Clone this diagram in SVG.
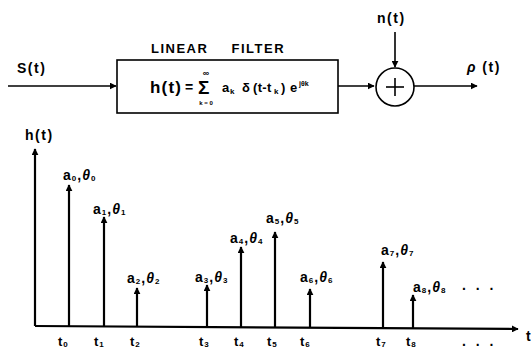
<svg xmlns="http://www.w3.org/2000/svg" width="531" height="348" viewBox="0 0 531 348">
<style>
text{font-family:"Liberation Sans",Arial,sans-serif;font-weight:bold;fill:#000}
.lbl{font-size:14px;letter-spacing:1.5px}
.ann{font-size:14px;letter-spacing:1px}
.tk{font-size:13px;letter-spacing:1px}
.sub{font-size:8px}
.th{font-style:italic}
.f{font-size:13px}
.dots{font-size:14px;letter-spacing:3px}
.ln{stroke:#000;stroke-width:1.6;fill:none}
.imp{stroke:#000;stroke-width:2.2;fill:none}
</style>
<defs>
<marker id="ah" viewBox="0 0 10 10" refX="9" refY="5" markerWidth="7" markerHeight="7" markerUnits="userSpaceOnUse" orient="auto"><path d="M0,0 L10,5 L0,10 z" fill="#000"/></marker>
</defs>
<rect x="0" y="0" width="531" height="348" fill="#fff"/>
<g id="connectors">
<line class="ln" x1="8" y1="86" x2="116" y2="86" marker-end="url(#ah)"/>
<line class="ln" x1="338" y1="86" x2="374" y2="86" marker-end="url(#ah)"/>
<line class="ln" x1="395" y1="32" x2="395" y2="67" marker-end="url(#ah)"/>
<line class="ln" x1="414" y1="86" x2="477" y2="86" marker-end="url(#ah)"/>
</g>
<g id="input"><text class="lbl" x="17" y="73">S(t)</text></g>
<g id="filter">
<text x="151" y="53" font-size="13" letter-spacing="1.5" word-spacing="18">LINEAR FILTER</text>
<rect x="117" y="60" width="221" height="53" fill="none" stroke="#000" stroke-width="1.6"/>
<text x="150" y="93" font-size="17" letter-spacing="1.2">h(t)</text>
<text x="185" y="92" font-size="14">=</text>
<text x="198" y="94" font-size="19">Σ</text>
<text x="206" y="76" font-size="9" text-anchor="middle">∞</text>
<text x="206" y="105" font-size="6" text-anchor="middle">k = 0</text>
<text class="f" x="222" y="92">a</text>
<text class="sub" x="230" y="94">k</text>
<text class="f" x="242" y="92">δ</text>
<text class="f" x="253" y="92" letter-spacing="0.3">(t-t</text>
<text class="sub" x="274" y="94">k</text>
<text class="f" x="281" y="92">)</text>
<text class="f" x="290" y="92">e</text>
<text x="299" y="86" font-size="7">jθk</text>
</g>
<g id="sum">
<circle cx="395" cy="87" r="19" fill="none" stroke="#000" stroke-width="1.6"/>
<line class="ln" x1="395" y1="78" x2="395" y2="96"/>
<line class="ln" x1="386" y1="87" x2="404" y2="87"/>
</g>
<g id="noise"><text class="lbl" x="377" y="23">n(t)</text></g>
<g id="output"><text class="lbl" x="467" y="72"><tspan class="th">ρ</tspan> (t)</text></g>
<g id="axes">
<line class="imp" x1="35" y1="326" x2="35" y2="149" marker-end="url(#ah)"/>
<line class="imp" x1="35" y1="326" x2="518" y2="329" marker-end="url(#ah)"/>
<text class="lbl" x="25" y="140">h(t)</text>
<text class="lbl" x="526" y="341">t</text>
</g>
<g id="impulses">
<line class="imp" x1="69" y1="326.2" x2="69" y2="185" marker-end="url(#ah)"/>
<line class="imp" x1="104" y1="326.4" x2="104" y2="217" marker-end="url(#ah)"/>
<line class="imp" x1="137" y1="326.6" x2="137" y2="288" marker-end="url(#ah)"/>
<line class="imp" x1="207" y1="327.1" x2="207" y2="285" marker-end="url(#ah)"/>
<line class="imp" x1="241" y1="327.3" x2="241" y2="247" marker-end="url(#ah)"/>
<line class="imp" x1="275" y1="327.5" x2="275" y2="232" marker-end="url(#ah)"/>
<line class="imp" x1="310" y1="327.7" x2="310" y2="289" marker-end="url(#ah)"/>
<line class="imp" x1="383" y1="328.2" x2="383" y2="262" marker-end="url(#ah)"/>
<line class="imp" x1="413" y1="328.4" x2="413" y2="295" marker-end="url(#ah)"/>
</g>
<g id="labels">
<text class="ann" x="63" y="180">a<tspan class="sub" dy="1">0</tspan><tspan dy="-1">,</tspan><tspan class="th">θ</tspan><tspan class="sub" dy="1">0</tspan></text>
<text class="ann" x="93" y="214">a<tspan class="sub" dy="1">1</tspan><tspan dy="-1">,</tspan><tspan class="th">θ</tspan><tspan class="sub" dy="1">1</tspan></text>
<text class="ann" x="127" y="283">a<tspan class="sub" dy="1">2</tspan><tspan dy="-1">,</tspan><tspan class="th">θ</tspan><tspan class="sub" dy="1">2</tspan></text>
<text class="ann" x="195" y="282">a<tspan class="sub" dy="1">3</tspan><tspan dy="-1">,</tspan><tspan class="th">θ</tspan><tspan class="sub" dy="1">3</tspan></text>
<text class="ann" x="230" y="243">a<tspan class="sub" dy="1">4</tspan><tspan dy="-1">,</tspan><tspan class="th">θ</tspan><tspan class="sub" dy="1">4</tspan></text>
<text class="ann" x="266" y="223">a<tspan class="sub" dy="1">5</tspan><tspan dy="-1">,</tspan><tspan class="th">θ</tspan><tspan class="sub" dy="1">5</tspan></text>
<text class="ann" x="300" y="282">a<tspan class="sub" dy="1">6</tspan><tspan dy="-1">,</tspan><tspan class="th">θ</tspan><tspan class="sub" dy="1">6</tspan></text>
<text class="ann" x="381" y="255">a<tspan class="sub" dy="1">7</tspan><tspan dy="-1">,</tspan><tspan class="th">θ</tspan><tspan class="sub" dy="1">7</tspan></text>
<text class="ann" x="413" y="292">a<tspan class="sub" dy="1">8</tspan><tspan dy="-1">,</tspan><tspan class="th">θ</tspan><tspan class="sub" dy="1">8</tspan></text>
<text class="dots" x="462" y="290">. . .</text>
<text class="tk" x="58" y="346">t<tspan class="sub" dy="1">0</tspan></text>
<text class="tk" x="94" y="346">t<tspan class="sub" dy="1">1</tspan></text>
<text class="tk" x="130" y="346">t<tspan class="sub" dy="1">2</tspan></text>
<text class="tk" x="199" y="346">t<tspan class="sub" dy="1">3</tspan></text>
<text class="tk" x="234" y="346">t<tspan class="sub" dy="1">4</tspan></text>
<text class="tk" x="267" y="346">t<tspan class="sub" dy="1">5</tspan></text>
<text class="tk" x="300" y="346">t<tspan class="sub" dy="1">6</tspan></text>
<text class="tk" x="376" y="346">t<tspan class="sub" dy="1">7</tspan></text>
<text class="tk" x="406" y="346">t<tspan class="sub" dy="1">8</tspan></text>
<text class="dots" x="462" y="346">. . .</text>
</g>
</svg>
